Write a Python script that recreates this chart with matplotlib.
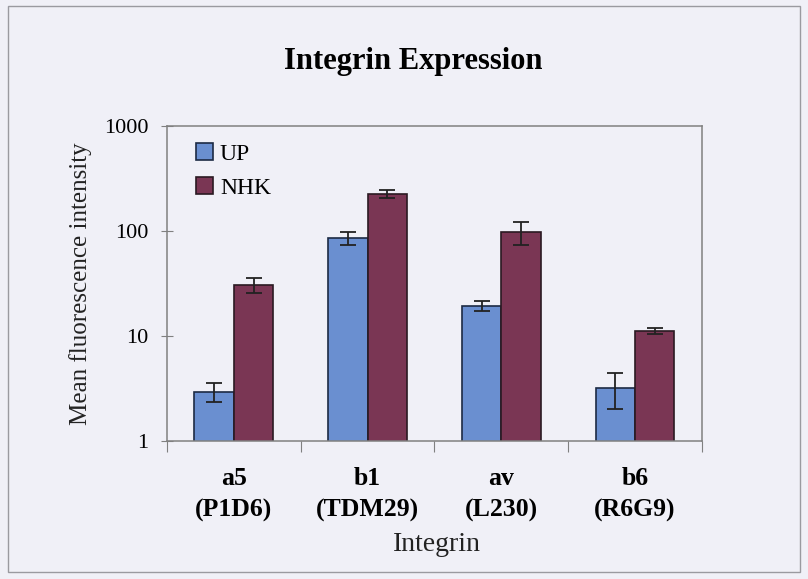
import numpy as np
import matplotlib
matplotlib.use("Agg")
import matplotlib.pyplot as plt
from matplotlib.patches import Rectangle

categories = ["a5\n(P1D6)", "b1\n(TDM29)", "av\n(L230)", "b6\n(R6G9)"]
up_vals = [2.95, 86, 19.5, 3.2]
up_err = [0.6, 12, 2.0, 1.2]
nhk_vals = [30.5, 225, 98, 11.2]
nhk_err = [5, 20, 24, 0.7]

bg = '#f0f0f7'
up_col = '#6a8fd0'
nhk_col = '#7a3654'

plt.rcParams['font.family'] = ['Liberation Serif', 'DejaVu Serif']

fig = plt.figure(figsize=(8.08, 5.79), dpi=100, facecolor=bg)
ax = fig.add_axes([0.2067, 0.2383, 0.662, 0.544])
ax.set_facecolor(bg)

# outer frame of the chart area
fig.patches.append(Rectangle((0.01, 0.012), 0.98, 0.978, transform=fig.transFigure,
                             fill=False, edgecolor='#9a9aa0', lw=1))

x = np.arange(len(categories))
w = 0.295
ax.bar(x - w/2, up_vals, w, color=up_col, edgecolor='#1c2a44', lw=1.2, label='UP')
ax.bar(x + w/2, nhk_vals, w, color=nhk_col, edgecolor='#2a1a22', lw=1.2, label='NHK')
ax.errorbar(x - w/2, up_vals, yerr=up_err, fmt='none', ecolor='#222222', elinewidth=1.3, capsize=6, capthick=1.3)
ax.errorbar(x + w/2, nhk_vals, yerr=nhk_err, fmt='none', ecolor='#222222', elinewidth=1.3, capsize=6, capthick=1.3)

ax.set_yscale('log')
ax.set_ylim(1, 1000)
ax.set_xlim(-0.5, len(categories) - 0.5)
ax.set_yticks([1, 10, 100, 1000])
ax.set_yticklabels(['1', '10', '100', '1000'])
ax.yaxis.set_minor_locator(matplotlib.ticker.NullLocator())
ax.tick_params(axis='y', direction='inout', length=9, color='#808080', labelsize=16, pad=9)

ax.set_xticks(np.arange(-0.5, len(categories)), minor=False)
ax.set_xticklabels([])
ax.set_xticks(x, minor=True)
ax.set_xticklabels(categories, minor=True, fontweight='bold', fontsize=18.5, linespacing=1.45)
ax.tick_params(axis='x', which='major', direction='out', length=8, color='#808080')
ax.tick_params(axis='x', which='minor', length=0, pad=19)

for s in ax.spines.values():
    s.set_color('#808080')
    s.set_linewidth(1.1)

ax.set_ylabel('Mean fluorescence intensity', fontsize=18, color='#222222')
ax.yaxis.set_label_coords(-0.14, 0.5)
ax.set_xlabel('Integrin', fontsize=20, color='#222222')
ax.xaxis.set_label_coords(0.505, -0.29)
fig.text(0.512, 0.894, 'Integrin Expression', ha='center', va='center',
         fontsize=22, fontweight='bold')

ax.legend(loc='upper left', bbox_to_anchor=(0.054, 0.945), frameon=False, fontsize=17,
          borderpad=0, borderaxespad=0, handlelength=0.72, handleheight=0.72,
          handletextpad=0.3, labelspacing=0.5)

fig.savefig('out.png', dpi=100, facecolor=bg)
